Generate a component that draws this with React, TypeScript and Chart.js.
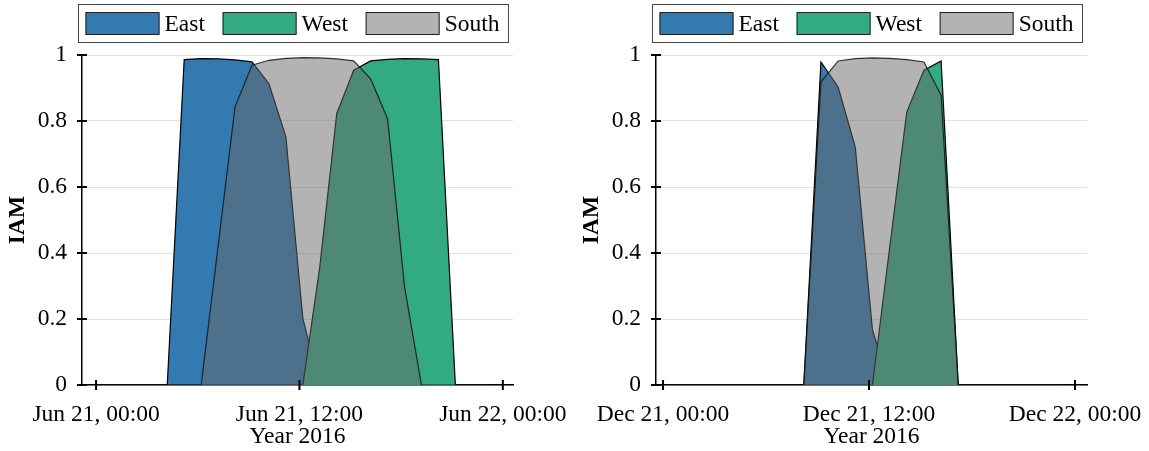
import React, { useEffect, useRef } from 'react';
import { Chart, registerables } from 'chart.js';

Chart.register(...registerables);

// ---- data ----
const HOURS = [0, 1, 2, 3, 4, 5, 6, 7, 8, 9, 10, 11, 12, 13, 14, 15, 16, 17, 18, 19, 20, 21, 22, 23];
const SAMPLE_MINUTE = 12; // timestamps fall at HH:12

const SERIES_NAMES = ['East', 'West', 'South'];

const EAST_JUN = [0, 0, 0, 0, 0, 0.986, 0.989, 0.988, 0.985, 0.979, 0.913, 0.752, 0.202, 0, 0, 0, 0, 0, 0, 0, 0, 0, 0, 0];
const WEST_JUN = [0, 0, 0, 0, 0, 0, 0, 0, 0, 0, 0, 0, 0, 0.358, 0.822, 0.954, 0.982, 0.987, 0.989, 0.988, 0.986, 0, 0, 0];
const SOUTH_JUN = [0, 0, 0, 0, 0, 0, 0, 0.42, 0.843, 0.969, 0.984, 0.99, 0.992, 0.991, 0.988, 0.982, 0.928, 0.807, 0.298, 0, 0, 0, 0, 0];

const EAST_DEC = [0, 0, 0, 0, 0, 0, 0, 0, 0, 0.979, 0.903, 0.721, 0.167, 0, 0, 0, 0, 0, 0, 0, 0, 0, 0, 0];
const WEST_DEC = [0, 0, 0, 0, 0, 0, 0, 0, 0, 0, 0, 0, 0, 0.415, 0.827, 0.954, 0.982, 0, 0, 0, 0, 0, 0, 0];
const SOUTH_DEC = [0, 0, 0, 0, 0, 0, 0, 0, 0, 0.918, 0.982, 0.989, 0.991, 0.99, 0.986, 0.979, 0.878, 0, 0, 0, 0, 0, 0, 0];

const TICK_HOURS = [0, 12, 24];
const JUN_TICK_LABELS = ['Jun 21, 00:00', 'Jun 21, 12:00', 'Jun 22, 00:00'];
const DEC_TICK_LABELS = ['Dec 21, 00:00', 'Dec 21, 12:00', 'Dec 22, 00:00'];
const Y_TICKS = [0, 0.2, 0.4, 0.6, 0.8, 1];
const X_TITLE = 'Year 2016';
const Y_TITLE = 'IAM';

// ---- style ----
const FONT = 'Liberation Serif';
const FS = 23.5;
const EAST_COLOR = '#337ab0';
const WEST_COLOR = '#32ab82';
const SOUTH_FILL = 'rgba(103,103,103,0.5)';
const SOUTH_SWATCH = '#b3b3b3';
const CANVAS_H = 451;

type Panel = {
  east: number[];
  west: number[];
  south: number[];
  tickLabels: string[];
  xMin: number;
  xMax: number;
};

const toPoints = (vals: number[]) => HOURS.map((h, i) => ({ x: h + SAMPLE_MINUTE / 60, y: vals[i] }));

const decorPlugin = {
  id: 'decor',
  afterDraw(chart: any) {
    const ctx = chart.ctx as CanvasRenderingContext2D;
    const { left, right, bottom } = chart.chartArea;
    const xs = chart.scales.x;
    const ys = chart.scales.y;
    ctx.save();
    ctx.strokeStyle = '#000';
    ctx.lineWidth = 2;
    for (const t of ys.ticks) {
      const py = ys.getPixelForValue(t.value);
      ctx.beginPath();
      ctx.moveTo(left - 5, py);
      ctx.lineTo(left + 5, py);
      ctx.stroke();
    }
    for (const t of xs.ticks) {
      const px = xs.getPixelForValue(t.value);
      ctx.beginPath();
      ctx.moveTo(px, bottom - 5);
      ctx.lineTo(px, bottom + 5);
      ctx.stroke();
    }
    // legend
    const fx = left - 3.5;
    const fw = right - left - 1;
    const fy = 4.5;
    const fh = 38;
    ctx.lineWidth = 1;
    ctx.strokeStyle = '#444';
    ctx.strokeRect(fx, fy, fw, fh);
    ctx.font = `${FS}px "${FONT}"`;
    const sw = 74;
    const sh = 22;
    const gapText = 5;
    const widths = SERIES_NAMES.map((n) => ctx.measureText(n).width);
    const content = widths.reduce((a, w) => a + w + sw + gapText, 0);
    const padL = 7;
    const padR = 9;
    const gap = (fw - padL - padR - content) / 2;
    const swColors = [EAST_COLOR, WEST_COLOR, SOUTH_SWATCH];
    let x = fx + padL;
    ctx.textBaseline = 'middle';
    ctx.textAlign = 'left';
    SERIES_NAMES.forEach((n, i) => {
      ctx.fillStyle = swColors[i];
      ctx.fillRect(x, 12.5, sw, sh);
      ctx.strokeStyle = '#222';
      ctx.strokeRect(x + 0.5, 12.5, sw - 1, sh);
      ctx.fillStyle = '#000';
      ctx.fillText(n, x + sw + gapText, 24.5);
      x += sw + gapText + widths[i] + gap;
    });
    ctx.restore();
  },
};

function PanelChart({ panel, width }: { panel: Panel; width: number }) {
  const ref = useRef<HTMLCanvasElement | null>(null);
  useEffect(() => {
    if (!ref.current) return;
    const chart = new Chart(ref.current, {
      type: 'line',
      data: {
        datasets: [
          {
            label: 'South',
            data: toPoints(panel.south),
            borderColor: 'rgba(20,20,20,0.85)',
            backgroundColor: SOUTH_FILL,
            borderWidth: 1.2,
            fill: 'origin',
          },
          {
            label: 'West',
            data: toPoints(panel.west),
            borderColor: '#000',
            backgroundColor: WEST_COLOR,
            borderWidth: 1.2,
            fill: 'origin',
          },
          {
            label: 'East',
            data: toPoints(panel.east),
            borderColor: '#000',
            backgroundColor: EAST_COLOR,
            borderWidth: 1.2,
            fill: 'origin',
          },
        ],
      },
      options: {
        animation: false,
        responsive: false,
        events: [],
        layout: { padding: { top: 55, right: width - 513, left: 0, bottom: 0 } },
        elements: { point: { radius: 0 }, line: { tension: 0 } },
        plugins: { legend: { display: false }, tooltip: { enabled: false } },
        scales: {
          x: {
            type: 'linear',
            min: panel.xMin,
            max: panel.xMax,
            afterFit: (s: any) => {
              s.height = CANVAS_H - 385;
            },
            afterBuildTicks: (s: any) => {
              s.ticks = TICK_HOURS.map((v) => ({ value: v }));
            },
            grid: { display: false, drawTicks: true, tickLength: 16 },
            border: { display: true, color: '#000', width: 1.5 },
            ticks: {
              padding: 0,
              maxRotation: 0,
              autoSkip: false,
              color: '#000',
              font: { family: FONT, size: FS },
              callback: (v: any) => panel.tickLabels[TICK_HOURS.indexOf(Number(v))] ?? '',
            },
            title: {
              display: true,
              text: X_TITLE,
              color: '#000',
              font: { family: FONT, size: FS },
              padding: { top: 0, bottom: 0 },
            },
          },
          y: {
            type: 'linear',
            min: 0,
            max: 1,
            z: 1,
            afterFit: (s: any) => {
              s.width = 82;
            },
            afterBuildTicks: (s: any) => {
              s.ticks = Y_TICKS.map((v) => ({ value: v }));
            },
            grid: { color: 'rgba(205,205,205,0.6)', lineWidth: 1, drawTicks: false },
            border: { display: true, color: '#000', width: 1.5 },
            ticks: {
              padding: 15,
              color: '#000',
              font: { family: FONT, size: FS },
              callback: (v: any) => String(Number(v)),
            },
            title: {
              display: true,
              text: Y_TITLE,
              color: '#000',
              font: { family: FONT, size: FS, weight: 'bold' },
              padding: { top: 4, bottom: 0 },
            },
          },
        },
      },
      plugins: [decorPlugin],
    } as any);
    return () => chart.destroy();
  }, [panel, width]);
  return <canvas ref={ref} width={width} height={CANVAS_H} style={{ display: 'block', width, height: CANVAS_H }} />;
}

const JUNE: Panel = {
  east: EAST_JUN,
  west: WEST_JUN,
  south: SOUTH_JUN,
  tickLabels: JUN_TICK_LABELS,
  xMin: -0.83,
  xMax: 24.6,
};
const DECEMBER: Panel = {
  east: EAST_DEC,
  west: WEST_DEC,
  south: SOUTH_DEC,
  tickLabels: DEC_TICK_LABELS,
  xMin: -0.41,
  xMax: 24.7,
};

export default function App() {
  useEffect(() => {
    document.body.style.margin = '0';
  }, []);
  return (
    <div style={{ position: 'relative', width: 1149, height: CANVAS_H, background: '#fff', overflow: 'hidden' }}>
      <div style={{ position: 'absolute', left: 0, top: 0 }}>
        <PanelChart panel={JUNE} width={574} />
      </div>
      <div style={{ position: 'absolute', left: 574, top: 0 }}>
        <PanelChart panel={DECEMBER} width={575} />
      </div>
    </div>
  );
}
